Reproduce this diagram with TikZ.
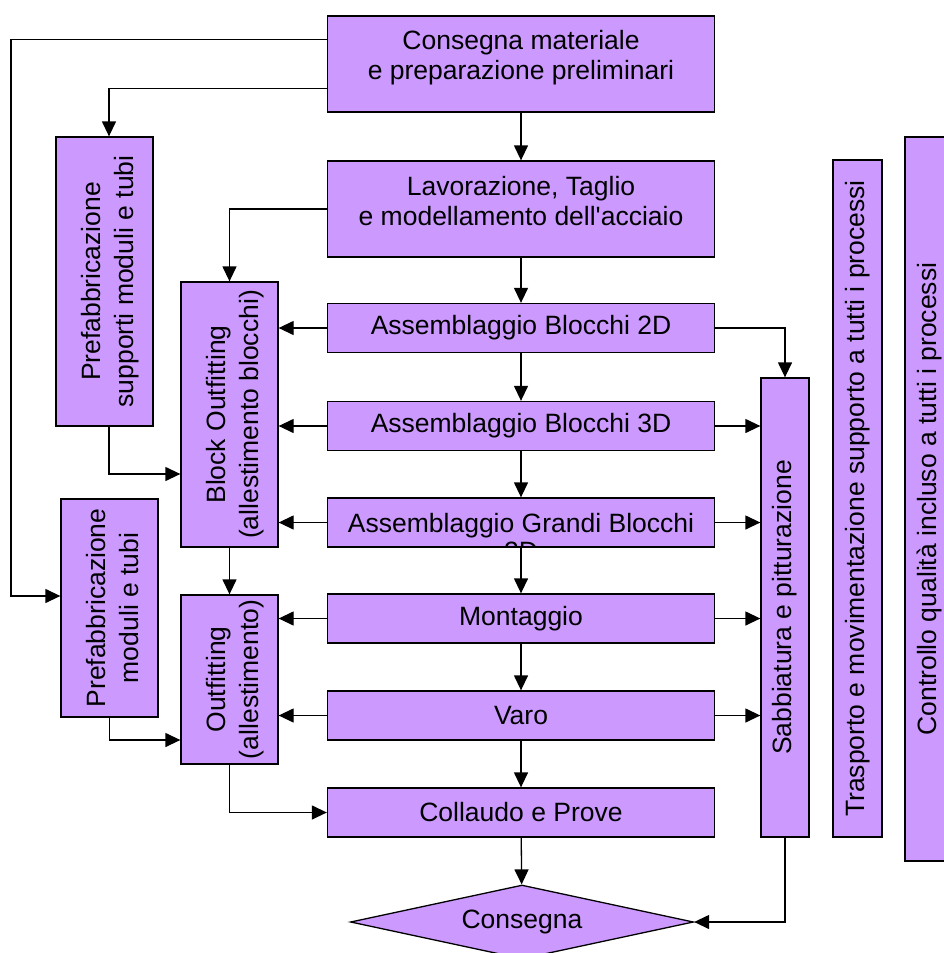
\documentclass[tikz,border=0pt]{standalone}
\usepackage{fontspec}
\newfontfamily\flowfont{Liberation Sans}
\usetikzlibrary{arrows.meta,shapes.geometric,calc}

\definecolor{lilac}{RGB}{204,153,255}

% upright text for the narrow side boxes
\newcommand{\sidetext}[2][0pt]{\hspace*{#1}\rotatebox{90}{\fontsize{26.5}{33}\selectfont\begin{tabular}{@{}c@{}}#2\end{tabular}}}

\begin{document}
\begin{tikzpicture}[x=1pt, y=-1pt,
    txt/.style={align=center, inner sep=0pt, font=\flowfont\fontsize{26.5}{30}\selectfont},
    box/.style={txt, draw=black, line width=1.3pt, fill=lilac},
    wide/.style={box, minimum width=387, minimum height=49},
    flow/.style={line width=1.3pt, -{Triangle[length=15pt, width=14pt]}}]
    \useasboundingbox (0,0) rectangle (943,953);

    % Main production line
    \node[box, minimum width=387, minimum height=96] (mat) at (521,64) {};
    \node[txt] (matT) at ([yshift=6pt]mat.center) {Consegna materiale\\e preparazione preliminari};
    \node[box, minimum width=387, minimum height=96] (lav) at (521,209) {};
    \node[txt] (lavT) at ([yshift=8pt]lav.center) {Lavorazione, Taglio\\e modellamento dell'acciaio};
    \node[wide] (ass2) at (521,328) {Assemblaggio Blocchi 2D};
    \node[wide] (ass3) at (521,426) {Assemblaggio Blocchi 3D};
    \node[wide] (gra) at (521,522.5) {};
    \begin{scope}
        \clip (gra.north west) rectangle (gra.south east);
        \node[txt, font=\flowfont\fontsize{26.5}{28}\selectfont] (graT) at ([yshift=-14pt]gra.center) {Assemblaggio Grandi Blocchi\\2D};
    \end{scope}
    \node[wide] (mon) at (521,618.5) {Montaggio};
    \node[wide] (varo) at (521,715.5) {Varo};
    \node[wide] (col) at (521,812.5) {Collaudo e Prove};
    \node[box, diamond, aspect=4.6, minimum width=343, minimum height=74] (dia) at (522,922) {Consegna};

    % Outfitting column
    \node[box, minimum width=97, minimum height=289] (psup) at (104.5,281.5) {\sidetext[12pt]{Prefabbricazione\\supporti moduli e tubi}};
    \node[box, minimum width=97, minimum height=265] (blk) at (229.5,414.5) {\sidetext[12pt]{Block Outfitting\\(allestimento blocchi)}};
    \node[box, minimum width=97, minimum height=218] (pmod) at (109.5,608) {\sidetext[12pt]{Prefabbricazione\\moduli e tubi}};
    \node[box, minimum width=97, minimum height=169] (out) at (229.5,679.5) {\sidetext[12pt]{Outfitting\\(allestimento)}};

    % Side processes
    \node[box, minimum width=48, minimum height=459] (sab) at (785,607.5) {\sidetext{Sabbiatura e pitturazione}};
    \node[box, minimum width=49, minimum height=677] (tra) at (857.5,498.5) {\sidetext{Trasporto e movimentazione supporto a tutti i processi}};
    \node[box, minimum width=50, minimum height=724] (ctl) at (930,499) {\sidetext{Controllo qualità incluso a tutti i processi}};

    % Main flow
    \draw[flow] (mat) -- (lav);
    \draw[flow] (lav) -- (ass2);
    \draw[flow] (ass2) -- (ass3);
    \draw[flow] (ass3) -- (gra);
    \draw[flow] (gra) -- (mon);
    \draw[flow] (mon) -- (varo);
    \draw[flow] (varo) -- (col);
    \draw[flow] (col) -- (dia);

    % Feeds to the outfitting
    \coordinate (matA) at ($(mat.north west)!0.25!(mat.south west)$);
    \coordinate (matB) at ($(mat.north west)!0.75!(mat.south west)$);
    \draw[flow] (matA) -- ++(-316,0) |- ([yshift=12pt]pmod.west);
    \draw[flow] (matB) -| ([xshift=4.5pt]psup.north);
    \draw[flow] (lav.west) -| (blk.north);
    \draw[flow] ([xshift=4.5pt]psup.south) |- ([yshift=-59.5pt]blk.west);
    \draw[flow] (pmod.south) |- ([yshift=-60.5pt]out.west);
    \draw[flow] (blk) -- (out);
    \draw[flow] (out.south) |- (col.west);
    \foreach \n in {ass2,ass3,gra}
        \draw[flow] (\n.west) -- (\n.west -| blk.east);
    \foreach \n in {mon,varo}
        \draw[flow] (\n.west) -- (\n.west -| out.east);

    % Sandblasting and painting
    \draw[flow] (ass2.east) -| (sab.north);
    \foreach \n in {ass3,gra,mon,varo}
        \draw[flow] (\n.east) -- (\n.east -| sab.west);
    \draw[flow] (sab.south) |- (dia.east);
\end{tikzpicture}
\end{document}
